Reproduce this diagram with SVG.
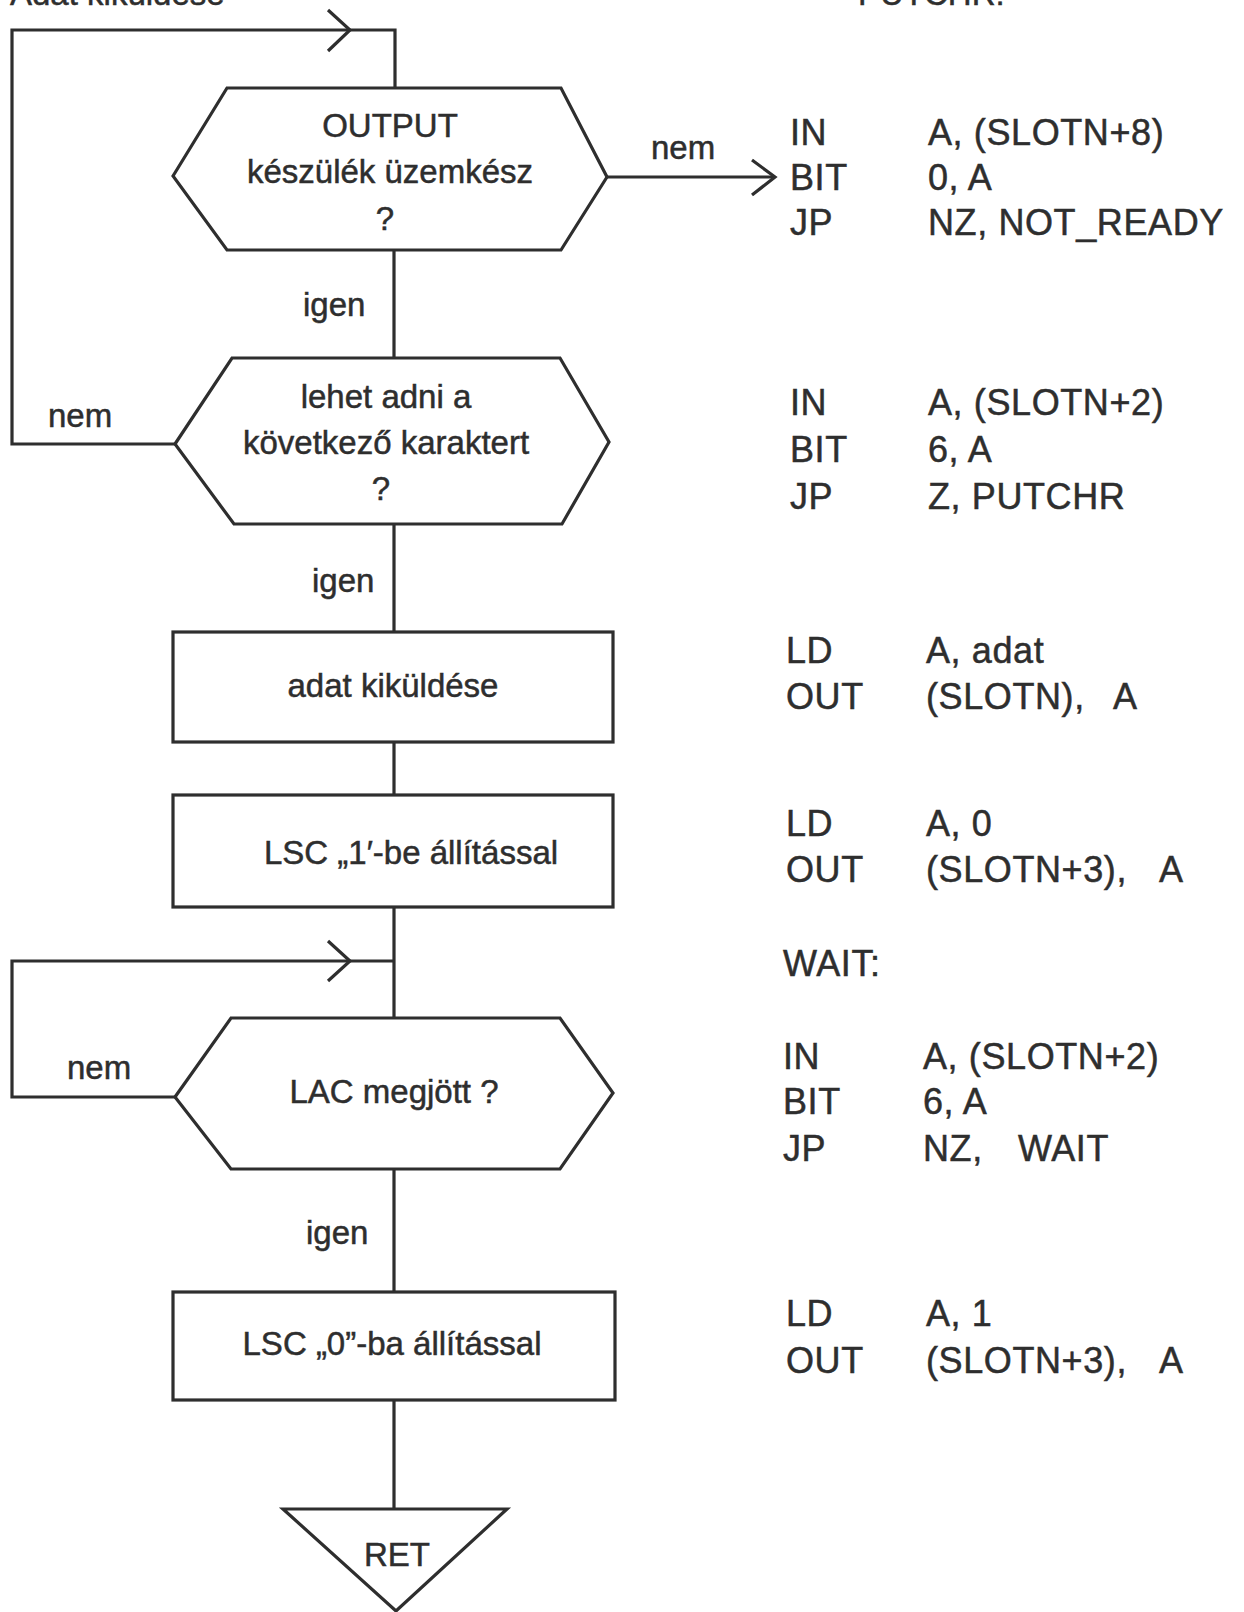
<svg xmlns="http://www.w3.org/2000/svg" width="1244" height="1612" viewBox="0 0 1244 1612">
<style>
.ln{fill:none;stroke:#2e2e2e;stroke-width:3.2;stroke-linejoin:miter}
.sh{fill:#fff;stroke:#2e2e2e;stroke-width:3.2}
text{font-family:"Liberation Sans",Arial,sans-serif;fill:#2e2e2e;stroke:#2e2e2e;stroke-width:0.5}
.t{font-size:33px;text-anchor:middle}
.l{font-size:33px}
.c{font-size:36px;letter-spacing:0.6px}
</style>
<rect width="1244" height="1612" fill="#fff"/>
<text class="l" x="10" y="5">Adat kiküldése</text>
<text class="l" x="858" y="5">PUTCHR:</text>
<g id="connectors">
<polyline class="ln" points="395,88 395,30 12,30 12,444 175,444"/>
<polyline class="ln" points="328,10 350,30 328,51"/>
<line class="ln" x1="607" y1="177" x2="774" y2="177"/>
<polyline class="ln" points="752,160 775,177 752,195"/>
<line class="ln" x1="394" y1="250" x2="394" y2="358"/>
<line class="ln" x1="394" y1="524" x2="394" y2="632"/>
<line class="ln" x1="394" y1="742" x2="394" y2="795"/>
<line class="ln" x1="394" y1="907" x2="394" y2="1018"/>
<polyline class="ln" points="394,961 12,961 12,1097 175,1097"/>
<polyline class="ln" points="328,941 350,961 328,981"/>
<line class="ln" x1="394" y1="1169" x2="394" y2="1292"/>
<line class="ln" x1="394" y1="1400" x2="394" y2="1509"/>
<text class="l" x="651" y="159">nem</text>
<text class="l" x="303" y="316">igen</text>
<text class="l" x="48" y="427">nem</text>
<text class="l" x="312" y="592">igen</text>
<text class="l" x="67" y="1079">nem</text>
<text class="l" x="306" y="1244">igen</text>
</g>
<g id="n1">
<polygon class="sh" points="173,176 227,88 561,88 607,177 561,250 227,250"/>
<text class="t" x="390" y="137">OUTPUT</text>
<text class="t" x="390" y="183">készülék üzemkész</text>
<text class="t" x="385" y="230">?</text>
</g>
<g id="n2">
<polygon class="sh" points="175,444 232,358 560,358 609,442 562,524 234,524"/>
<text class="t" x="386" y="408">lehet adni a</text>
<text class="t" x="386" y="454">következő karaktert</text>
<text class="t" x="381" y="500">?</text>
</g>
<g id="n3">
<rect class="sh" x="173" y="632" width="440" height="110"/>
<text class="t" x="393" y="697">adat kiküldése</text>
</g>
<g id="n4">
<rect class="sh" x="173" y="795" width="440" height="112"/>
<text class="t" x="411" y="864">LSC „1′-be állítással</text>
</g>
<g id="n5">
<polygon class="sh" points="175,1097 231,1018 560,1018 613,1093 560,1169 231,1169"/>
<text class="t" x="394" y="1103">LAC megjött ?</text>
</g>
<g id="n6">
<rect class="sh" x="173" y="1292" width="442" height="108"/>
<text class="t" x="392" y="1355">LSC „0”-ba állítással</text>
</g>
<g id="n7">
<polygon class="sh" points="283,1509 507,1509 396,1611"/>
<text class="t" x="397" y="1566">RET</text>
</g>
<g id="code">
<text class="c" x="790" y="145">IN</text><text class="c" x="928" y="145">A, (SLOTN+8)</text>
<text class="c" x="790" y="190">BIT</text><text class="c" x="928" y="190">0, A</text>
<text class="c" x="790" y="235">JP</text><text class="c" x="928" y="235">NZ, NOT_READY</text>
<text class="c" x="790" y="415">IN</text><text class="c" x="928" y="415">A, (SLOTN+2)</text>
<text class="c" x="790" y="462">BIT</text><text class="c" x="928" y="462">6, A</text>
<text class="c" x="790" y="509">JP</text><text class="c" x="928" y="509">Z, PUTCHR</text>
<text class="c" x="786" y="663">LD</text><text class="c" x="926" y="663">A, adat</text>
<text class="c" x="786" y="709">OUT</text><text class="c" x="926" y="709">(SLOTN),</text><text class="c" x="1113" y="709">A</text>
<text class="c" x="786" y="836">LD</text><text class="c" x="926" y="836">A, 0</text>
<text class="c" x="786" y="882">OUT</text><text class="c" x="926" y="882">(SLOTN+3),</text><text class="c" x="1159" y="882">A</text>
<text class="c" x="783" y="976">WAIT:</text>
<text class="c" x="783" y="1069">IN</text><text class="c" x="923" y="1069">A, (SLOTN+2)</text>
<text class="c" x="783" y="1114">BIT</text><text class="c" x="923" y="1114">6,  A</text>
<text class="c" x="783" y="1161">JP</text><text class="c" x="923" y="1161">NZ,</text><text class="c" x="1018" y="1161">WAIT</text>
<text class="c" x="786" y="1326">LD</text><text class="c" x="926" y="1326">A, 1</text>
<text class="c" x="786" y="1373">OUT</text><text class="c" x="926" y="1373">(SLOTN+3),</text><text class="c" x="1159" y="1373">A</text>
</g>
</svg>
